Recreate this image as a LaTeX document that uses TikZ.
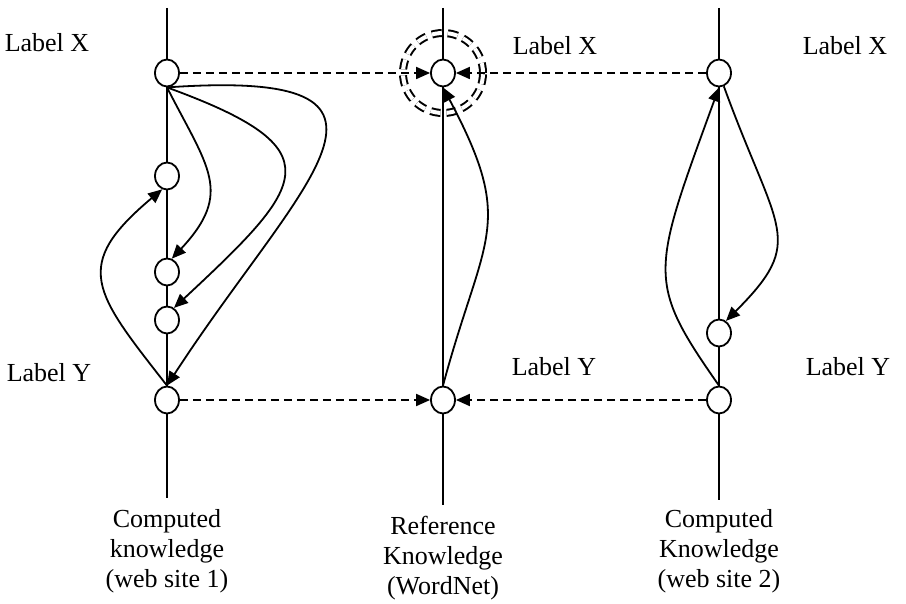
\documentclass[tikz,border=0pt]{standalone}
\usepackage{fontspec}
\setmainfont{Liberation Serif}
\usetikzlibrary{arrows.meta,positioning,backgrounds,shapes.geometric}
\tikzset{
  kn node/.style={ellipse,draw,fill=white,line width=0.9pt,minimum width=12pt,minimum height=13.5pt,inner sep=0pt},
  kn axis/.style={line width=0.9pt},
  kn flow/.style={-{Triangle[length=7pt,width=6pt]},line width=0.9pt},
  kn link/.style={kn flow,dash pattern=on 4pt off 2.5pt},
  kn ring/.style={circle,draw,double,double distance=2pt,line width=1pt,dash pattern=on 5pt off 3pt,minimum size=40pt,inner sep=0pt},
  kn label/.style={font=\fontsize{13}{15}\selectfont,inner sep=0pt},
  kn caption/.style={kn label,align=center,anchor=north}
}

\begin{document}
\begin{tikzpicture}[x=0.5pt,y=-0.5pt]
  \useasboundingbox (0,0) rectangle (906,604);
  % web site 1
  \node[kn node] (X1) at (167,73) {};
  \node[kn node] (a) at (167,176) {};
  \node[kn node] (b) at (167,272) {};
  \node[kn node] (c) at (167,320) {};
  \node[kn node] (Y1) at (167,400) {};
  % WordNet
  \node[kn node] (Xm) at (443,73) {};
  \node[kn node] (Ym) at (443,400) {};
  \node[kn ring] (ring) at (Xm) {};
  % web site 2
  \node[kn node] (Xr) at (719,73) {};
  \node[kn node] (b2) at (719,333) {};
  \node[kn node] (Yr) at (719,400) {};
  % axes
  \coordinate (top1) at (167,8);
  \coordinate (bot1) at (167,498);
  \coordinate (top2) at (443,8);
  \coordinate (bot2) at (443,505);
  \coordinate (top3) at (719,8);
  \coordinate (bot3) at (719,500);
  \begin{scope}[on background layer]
    \draw[kn axis] (top1) -- (bot1);
    \draw[kn axis] (top2) -- (bot2);
    \draw[kn axis] (top3) -- (bot3);
  \end{scope}
  % labels
  \node[kn label] (lx1) at (47,43) {Label X};
  \node[kn label] (lx2) at (555,46) {Label X};
  \node[kn label] (lx3) at (845,46) {Label X};
  \node[kn label] (ly1) at (49,373) {Label Y};
  \node[kn label] (ly2) at (554,367) {Label Y};
  \node[kn label] (ly3) at (848,367) {Label Y};
  \node[kn caption,below=5.5pt of bot1] (cap1) {Computed\\knowledge\\(web site 1)};
  \node[kn caption,below=5.5pt of bot2] (cap2) {Reference\\Knowledge\\(WordNet)};
  \node[kn caption,below=4.5pt of bot3] (cap3) {Computed\\Knowledge\\(web site 2)};
  % mappings onto the reference
  \draw[kn link] (X1.east) -- (Xm.west);
  \draw[kn link] (Xr.west) -- (Xm.east);
  \draw[kn link] (Y1.east) -- (Ym.west);
  \draw[kn link] (Yr.west) -- (Ym.east);
  % paths inside each hierarchy
  \draw[kn flow] (X1.south) to[out=-63,in=47,looseness=1.35] (b.70);
  \draw[kn flow] (X1.south) to[out=-20,in=43,looseness=2.1] (c.60);
  \draw[kn flow] (X1.south) to[out=4,in=57,out looseness=2.4,in looseness=2.1] (Y1.north);
  \draw[kn flow] (Y1.north) to[out=128,in=220,looseness=1.55] (a.250);
  \draw[kn flow] (Ym.north) to[out=75,in=-62,looseness=1.35] (Xm.south);
  \draw[kn flow] (Yr.north) to[out=125,in=250,out looseness=1.1,in looseness=1.7] (Xr.south);
  \draw[kn flow] (Xr.290) to[out=-70,in=45,out looseness=1.7,in looseness=1.25] (b2.60);
\end{tikzpicture}
\end{document}
